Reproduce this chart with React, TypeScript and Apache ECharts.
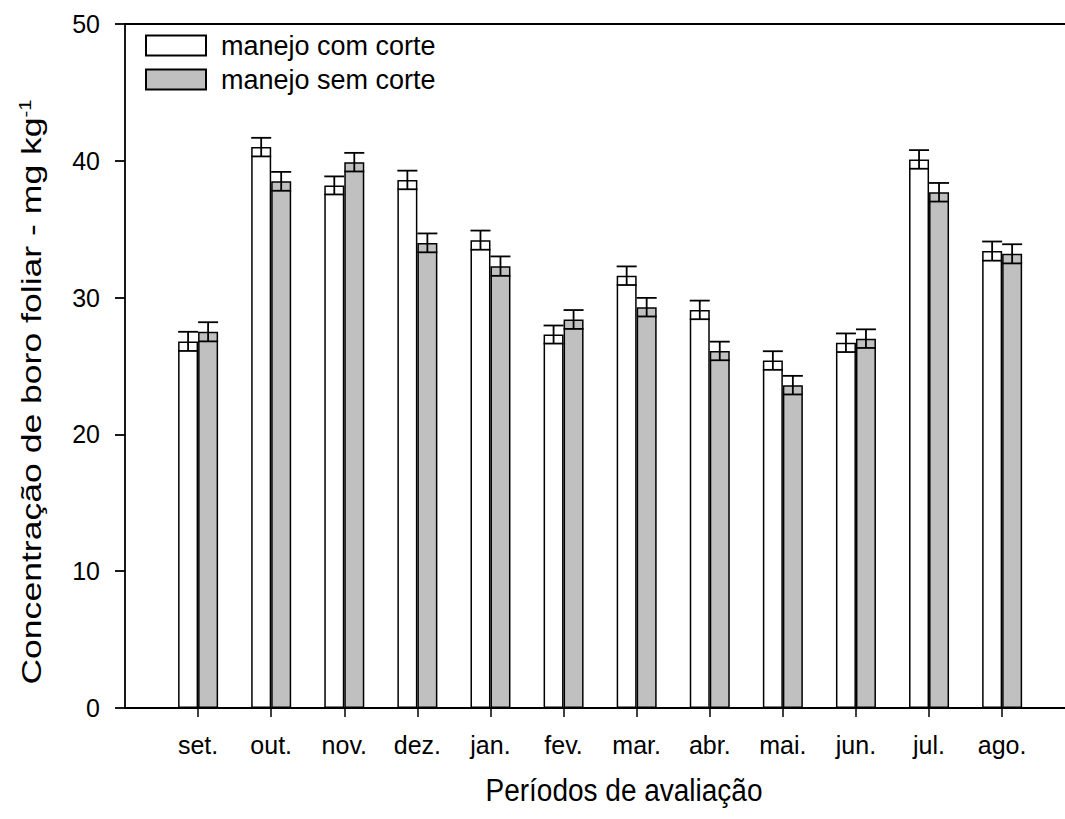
import React, { useEffect, useRef } from "react";
import * as echarts from "echarts";

// Sampling months (Sept → Aug)
const categories = ["set.", "out.", "nov.", "dez.", "jan.", "fev.", "mar.", "abr.", "mai.", "jun.", "jul.", "ago."];

// Foliar boron (mg kg-1) per management system
const comCorte = [26.8, 41.0, 38.2, 38.6, 34.2, 27.3, 31.6, 29.1, 25.4, 26.7, 40.1, 33.4];
const semCorte = [27.5, 38.5, 39.9, 34.0, 32.3, 28.4, 29.3, 26.1, 23.6, 27.0, 37.7, 33.2];

// Standard errors
const errCom = [0.7, 0.68, 0.66, 0.68, 0.7, 0.66, 0.68, 0.68, 0.68, 0.68, 0.68, 0.7];
const errSem = [0.7, 0.69, 0.68, 0.69, 0.71, 0.69, 0.68, 0.68, 0.68, 0.68, 0.68, 0.7];

const yTicks = [0, 10, 20, 30, 40, 50];

const xTitle = "Períodos de avaliação";
const yTitle = "Concentração de boro foliar - mg kg";
const yTitleSup = "-1";

const FONT = "'Liberation Sans', Arial, Helvetica, sans-serif";
const BAR_W = 20;

function errorBarSeries(name: string, values: number[], errs: number[], offset: number) {
  return {
    name,
    type: "custom",
    z: 5,
    silent: true,
    data: values.map((v, i) => [i + 1, v, errs[i]]),
    renderItem: (_params: any, api: any) => {
      const x = api.value(0);
      const y = api.value(1);
      const e = api.value(2);
      const hi = api.coord([x, y + e]);
      const lo = api.coord([x, y - e]);
      const cx = hi[0] + offset;
      const hw = BAR_W / 2;
      const st = { stroke: "#000", lineWidth: 1.8 };
      return {
        type: "group",
        children: [
          { type: "line", shape: { x1: cx, y1: hi[1], x2: cx, y2: lo[1] }, style: st },
          { type: "line", shape: { x1: cx - hw, y1: hi[1], x2: cx + hw, y2: hi[1] }, style: st },
          { type: "line", shape: { x1: cx - hw, y1: lo[1], x2: cx + hw, y2: lo[1] }, style: st },
        ],
      };
    },
  };
}

export default function App() {
  const ref = useRef<HTMLDivElement>(null);

  useEffect(() => {
    if (!ref.current) return;
    const chart = echarts.init(ref.current, undefined, { renderer: "svg" });
    const tickIdx = categories.map((_, i) => i + 1);

    chart.setOption({
      animation: false,
      backgroundColor: "#ffffff",
      textStyle: { fontFamily: FONT, color: "#000" },
      grid: { left: 125, right: 0, top: 24, bottom: 111, containLabel: false },
      legend: {
        data: ["manejo com corte", "manejo sem corte"],
        orient: "vertical",
        left: 145,
        top: 32,
        padding: 0,
        itemWidth: 60,
        itemHeight: 20,
        itemGap: 7,
        icon: "rect",
        textStyle: { fontSize: 27, fontFamily: FONT, color: "#000", padding: [0, 0, 0, 10] },
      },
      graphic: [
        {
          type: "text",
          x: 624,
          y: 790,
          scaleY: 1.1,
          silent: true,
          style: {
            text: xTitle,
            fontSize: 28,
            fontFamily: FONT,
            fill: "#000",
            align: "center",
            verticalAlign: "middle",
          },
        },
        {
          type: "text",
          x: 31,
          y: 392,
          rotation: Math.PI / 2,
          scaleX: 1.27,
          silent: true,
          style: {
            text: `{a|${yTitle}}{s|${yTitleSup}}`,
            fill: "#000",
            align: "center",
            verticalAlign: "middle",
            rich: {
              a: { fontSize: 28, fontFamily: FONT, fill: "#000" },
              s: { fontSize: 16, fontFamily: FONT, fill: "#000", verticalAlign: "top" },
            },
          },
        },
      ],
      xAxis: [
        {
          type: "value",
          min: 0,
          max: 12.86,
          interval: 1,
          splitLine: { show: false },
          axisLine: { show: true, lineStyle: { color: "#000", width: 1.8 } },
          axisTick: { show: true, customValues: tickIdx, length: 9, lineStyle: { color: "#000", width: 1.5 } },
          axisLabel: {
            customValues: tickIdx,
            formatter: (v: number) => categories[Math.round(v) - 1] ?? "",
            fontSize: 25,
            fontFamily: FONT,
            color: "#000",
            margin: 24,
          },
        },
        {
          type: "value",
          position: "top",
          min: 0,
          max: 12.86,
          axisLine: { show: true, lineStyle: { color: "#000", width: 1.8 } },
          axisTick: { show: false },
          axisLabel: { show: false },
          splitLine: { show: false },
        },
      ],
      yAxis: {
        type: "value",
        min: yTicks[0],
        max: yTicks[yTicks.length - 1],
        interval: 10,
        splitLine: { show: false },
        axisLine: { show: true, lineStyle: { color: "#000", width: 1.8 } },
        axisTick: { show: true, length: 10, lineStyle: { color: "#000", width: 1.8 } },
        axisLabel: { fontSize: 25, fontFamily: FONT, color: "#000", margin: 25 },
      },
      series: [
        {
          name: "manejo com corte",
          type: "bar",
          barWidth: BAR_W,
          barGap: "0%",
          data: comCorte.map((v, i) => [i + 1, v]),
          itemStyle: { color: "#ffffff", borderColor: "#000", borderWidth: 1.5 },
        },
        {
          name: "manejo sem corte",
          type: "bar",
          barWidth: BAR_W,
          barGap: "0%",
          data: semCorte.map((v, i) => [i + 1, v]),
          itemStyle: { color: "#c0c0c0", borderColor: "#000", borderWidth: 1.5 },
        },
        errorBarSeries("erro com corte", comCorte, errCom, -BAR_W / 2),
        errorBarSeries("erro sem corte", semCorte, errSem, BAR_W / 2),
      ],
    });

    return () => chart.dispose();
  }, []);

  return (
    <div
      ref={ref}
      style={{ position: "absolute", left: 0, top: 0, width: 1065, height: 819, background: "#fff" }}
    />
  );
}
